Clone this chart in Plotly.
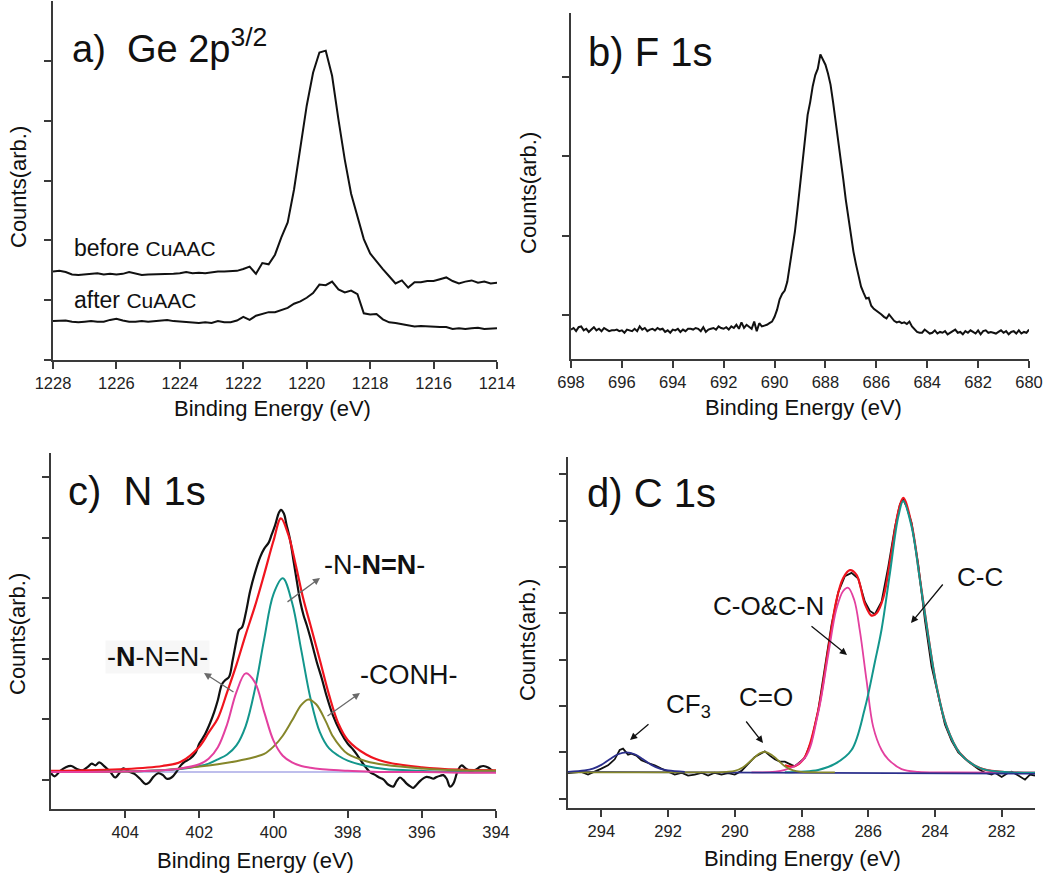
import numpy as np
import plotly.graph_objects as go

W, H = 1050, 874
OFF = 0  # page offset of the plot div (body margin removed below)
FONT = "Liberation Sans, Arial, sans-serif"
AX = "#3a3a3a"

# ---------------- Panel a: Ge 2p3/2 ----------------
ge_energy = np.round(np.linspace(1228.0, 1214.0, 71), 1)
ge_before = [1.48, 1.49, 1.47, 1.43, 1.42, 1.43, 1.44, 1.45, 1.43, 1.44,
             1.43, 1.44, 1.47, 1.44, 1.42, 1.43, 1.43, 1.44, 1.43, 1.44,
             1.45, 1.47, 1.45, 1.46, 1.45, 1.47, 1.48, 1.48, 1.48, 1.49,
             1.52, 1.56, 1.44, 1.62, 1.60, 1.76, 2.05, 2.30, 2.85, 3.55,
             4.25, 4.80, 5.14, 5.17, 4.75, 4.02, 3.35, 2.78, 2.38, 2.02,
             1.78, 1.64, 1.52, 1.40, 1.28, 1.33, 1.21, 1.30, 1.30, 1.32,
             1.32, 1.35, 1.38, 1.32, 1.28, 1.31, 1.33, 1.29, 1.31, 1.28,
             1.29]
ge_after = [0.65, 0.66, 0.66, 0.64, 0.63, 0.64, 0.65, 0.64, 0.64, 0.67,
            0.69, 0.66, 0.64, 0.64, 0.65, 0.64, 0.65, 0.66, 0.67, 0.65,
            0.64, 0.64, 0.63, 0.62, 0.63, 0.62, 0.65, 0.63, 0.63, 0.66,
            0.72, 0.67, 0.74, 0.77, 0.80, 0.80, 0.84, 0.87, 0.94, 0.98,
            1.04, 1.12, 1.26, 1.25, 1.31, 1.18, 1.13, 1.16, 1.10, 0.78,
            0.76, 0.77, 0.68, 0.63, 0.62, 0.60, 0.59, 0.56, 0.57, 0.56,
            0.56, 0.55, 0.55, 0.52, 0.53, 0.52, 0.53, 0.54, 0.52, 0.53,
            0.53]
ge_xticks = [1228, 1226, 1224, 1222, 1220, 1218, 1216, 1214]

# ---------------- Panel b: F 1s ----------------
f_energy = np.round(np.linspace(698.0, 680.0, 181), 1)
f_counts = [0.82, 0.84, 0.80, 0.85, 0.86, 0.81, 0.83, 0.79, 0.82, 0.85,
            0.81, 0.83, 0.80, 0.84, 0.82, 0.80, 0.81, 0.81, 0.82, 0.80,
            0.81, 0.78, 0.82, 0.81, 0.80, 0.83, 0.80, 0.86, 0.82, 0.84,
            0.80, 0.82, 0.83, 0.81, 0.84, 0.82, 0.83, 0.79, 0.81, 0.78,
            0.82, 0.81, 0.83, 0.79, 0.82, 0.80, 0.83, 0.83, 0.82, 0.84,
            0.83, 0.80, 0.85, 0.79, 0.82, 0.83, 0.84, 0.82, 0.86, 0.84,
            0.83, 0.85, 0.82, 0.86, 0.84, 0.88, 0.83, 0.91, 0.84, 0.88,
            0.86, 0.83, 0.92, 0.80, 0.90, 0.86, 0.87, 0.88, 0.90, 0.92,
            0.98, 1.07, 1.20, 1.27, 1.31, 1.42, 1.63, 1.83, 2.05, 2.33,
            2.62, 2.90, 3.18, 3.52, 3.68, 3.88, 4.02, 4.10, 4.28, 4.22,
            4.15, 4.04, 3.90, 3.68, 3.45, 3.20, 2.93, 2.71, 2.45, 2.22,
            1.98, 1.80, 1.64, 1.50, 1.36, 1.28, 1.21, 1.22, 1.12, 1.08,
            1.06, 1.03, 1.01, 0.98, 0.96, 1.01, 0.97, 0.93, 0.91, 0.92,
            0.90, 0.91, 0.89, 0.92, 0.86, 0.82, 0.79, 0.78, 0.78, 0.82,
            0.79, 0.77, 0.78, 0.81, 0.77, 0.79, 0.78, 0.80, 0.76, 0.78,
            0.80, 0.82, 0.78, 0.79, 0.76, 0.80, 0.78, 0.81, 0.79, 0.77,
            0.81, 0.76, 0.80, 0.81, 0.78, 0.79, 0.78, 0.77, 0.79, 0.81,
            0.78, 0.80, 0.76, 0.79, 0.80, 0.77, 0.81, 0.77, 0.79, 0.78,
            0.82]
f_xticks = [698, 696, 694, 692, 690, 688, 686, 684, 682, 680]

# ---------------- Panel c: N 1s ----------------
n_data_e = [406.0, 405.9, 405.75, 405.6, 405.45, 405.3, 405.15, 405.0, 404.9, 404.8,
            404.7, 404.55, 404.4, 404.27, 404.15, 404.05, 403.9, 403.75, 403.6, 403.45,
            403.35, 403.24, 403.1, 402.98, 402.88, 402.75, 402.6, 402.5, 402.4, 402.25,
            402.1, 402.0, 401.85, 401.71, 401.6, 401.5, 401.39, 401.3, 401.2, 401.1,
            401.0, 400.93, 400.85, 400.75, 400.63, 400.5, 400.36, 400.25, 400.13, 400.05,
            399.96, 399.85, 399.8, 399.72, 399.65, 399.55, 399.45, 399.37, 399.28, 399.19,
            399.1, 399.01, 398.92, 398.83, 398.7, 398.56, 398.4, 398.2, 398.0, 397.85,
            397.75, 397.6, 397.5, 397.4, 397.25, 397.15, 397.04, 396.9, 396.77, 396.68,
            396.59, 396.5, 396.41, 396.3, 396.23, 396.14, 396.05, 395.95, 395.87, 395.78,
            395.69, 395.6, 395.5, 395.42, 395.33, 395.24, 395.15, 395.05, 394.97, 394.92,
            394.8, 394.69, 394.55, 394.42, 394.34, 394.2, 394.07, 394.0]
n_data = [0.11, 0.06, 0.15, 0.21, 0.23, 0.18, 0.16, 0.22, 0.27, 0.24,
          0.29, 0.22, 0.13, 0.04, 0.12, 0.19, 0.14, 0.10, 0.02, -0.07,
          -0.04, 0.05, 0.11, 0.08, 0.02, 0.04, 0.15, 0.24, 0.30, 0.35,
          0.45, 0.60, 0.75, 0.94, 1.12, 1.32, 1.58, 1.65, 1.70, 1.98,
          2.30, 2.48, 2.52, 2.75, 3.12, 3.42, 3.68, 3.82, 3.92, 4.05,
          4.20, 4.42, 4.46, 4.40, 4.22, 3.96, 3.58, 3.28, 2.95, 2.72,
          2.55, 2.36, 2.15, 1.94, 1.68, 1.37, 1.07, 0.80, 0.60, 0.50,
          0.42, 0.28, 0.20, 0.13, 0.08, 0.04, 0.01, -0.08, -0.11, -0.02,
          0.04, 0.00, -0.06, -0.11, -0.13, -0.08, -0.02, 0.03, 0.05, 0.04,
          0.02, 0.05, 0.07, 0.08, 0.02, -0.11, -0.06, 0.12, 0.22, 0.24,
          0.18, 0.15, 0.17, 0.22, 0.23, 0.20, 0.14, 0.15]
n_comp_e = [406.0, 404.0, 403.0, 402.5, 402.0, 401.75, 401.5, 401.25, 401.0, 400.75,
            400.5, 400.25, 400.0, 399.75, 399.5, 399.25, 399.0, 398.75, 398.5, 398.25,
            398.0, 397.5, 397.0, 396.0, 395.0, 394.0]
n_nnn_mid = [0.13, 0.14, 0.16, 0.18, 0.23, 0.27, 0.34, 0.42, 0.57, 0.89,
             1.50, 2.33, 3.07, 3.33, 2.93, 2.14, 1.34, 0.79, 0.52, 0.40,
             0.32, 0.23, 0.18, 0.15, 0.13, 0.13]
n_nnn_end = [0.13, 0.14, 0.16, 0.19, 0.26, 0.35, 0.54, 0.92, 1.45, 1.76,
             1.61, 1.12, 0.65, 0.40, 0.29, 0.23, 0.20, 0.18, 0.17, 0.16,
             0.15, 0.14, 0.13, 0.13, 0.12, 0.12]
n_conh_e = [406.0, 404.0, 403.0, 402.5, 402.0, 401.5, 401.0, 400.75, 400.5, 400.25,
            400.0, 399.75, 399.5, 399.25, 399.06, 398.85, 398.6, 398.4, 398.2, 398.0,
            397.5, 397.0, 396.0, 395.0, 394.0]
n_conh = [0.13, 0.14, 0.16, 0.19, 0.22, 0.26, 0.31, 0.34, 0.38, 0.43,
          0.55, 0.73, 0.98, 1.24, 1.33, 1.25, 0.98, 0.72, 0.55, 0.43,
          0.31, 0.25, 0.19, 0.16, 0.15]
n_env_e = [406.0, 404.0, 403.0, 402.5, 402.0, 401.75, 401.5, 401.25, 401.0, 400.75,
           400.5, 400.25, 400.0, 399.8, 399.6, 399.4, 399.2, 399.0, 398.75, 398.5,
           398.25, 398.0, 397.5, 397.0, 396.0, 395.0, 394.0]
n_env = [0.15, 0.18, 0.23, 0.30, 0.55, 0.78, 1.02, 1.45, 1.90, 2.40,
         2.87, 3.40, 3.95, 4.32, 4.05, 3.55, 3.00, 2.55, 1.98, 1.40,
         0.93, 0.66, 0.42, 0.30, 0.21, 0.17, 0.16]
n_base_e = [406.0, 394.0]
n_base = [0.13, 0.13]
n_xticks = [404, 402, 400, 398, 396, 394]

# ---------------- Panel d: C 1s ----------------
c_data_e = [295.0, 294.8, 294.6, 294.4, 294.2, 294.0, 293.8, 293.6, 293.45, 293.35,
            293.2, 293.1, 292.95, 292.8, 292.6, 292.4, 292.2, 292.0, 291.8, 291.6,
            291.4, 291.2, 291.0, 290.8, 290.6, 290.4, 290.2, 290.0, 289.8, 289.6,
            289.4, 289.2, 289.1, 288.95, 288.8, 288.65, 288.5, 288.3, 288.2, 287.9,
            287.7, 287.5, 287.3, 287.1, 286.9, 286.7, 286.5, 286.3, 286.1, 285.95,
            285.8, 285.6, 285.4, 285.2, 285.05, 284.95, 284.85, 284.7, 284.5, 284.3,
            284.1, 283.9, 283.7, 283.5, 283.3, 283.0, 282.7, 282.5, 282.3, 282.2,
            282.0, 281.8, 281.7, 281.5, 281.3, 281.15, 281.0]
c_data = [0.55, 0.56, 0.58, 0.52, 0.58, 0.65, 0.72, 0.85, 1.05, 1.08,
          0.95, 0.97, 0.93, 0.83, 0.77, 0.72, 0.65, 0.58, 0.52, 0.56,
          0.50, 0.52, 0.56, 0.50, 0.56, 0.52, 0.55, 0.52, 0.60, 0.75,
          0.90, 0.98, 1.02, 0.93, 0.85, 0.80, 0.80, 0.73, 0.70, 0.88,
          1.25, 1.90, 2.85, 3.75, 4.45, 4.80, 4.87, 4.75, 4.25, 4.05,
          3.98, 4.25, 5.00, 5.85, 6.35, 6.45, 6.30, 5.95, 5.05, 3.85,
          2.85, 2.20, 1.60, 1.25, 1.00, 0.80, 0.64, 0.56, 0.52, 0.56,
          0.47, 0.56, 0.58, 0.50, 0.41, 0.52, 0.50]
c_cc_e = [288.5, 287.5, 287.0, 286.5, 286.1, 285.8, 285.6, 285.35, 285.1, 284.95,
          284.7, 284.45, 284.2, 283.95, 283.65, 283.25, 282.65, 282.0, 281.0]
c_cc = [0.57, 0.62, 0.75, 1.05, 1.95, 2.95, 3.65, 4.86, 6.08, 6.42,
        5.87, 4.72, 3.50, 2.42, 1.56, 0.98, 0.66, 0.58, 0.56]
c_con_e = [289.5, 288.5, 287.9, 287.5, 287.2, 286.95, 286.75, 286.6, 286.42, 286.25,
           286.05, 285.85, 285.6, 285.4, 285.0, 284.5, 283.5, 281.0]
c_con = [0.57, 0.62, 0.88, 1.85, 3.10, 4.10, 4.48, 4.55, 4.29, 3.62,
         2.55, 1.55, 1.05, 0.85, 0.64, 0.58, 0.57, 0.56]
c_env_e = [288.5, 288.2, 287.9, 287.5, 287.2, 286.95, 286.75, 286.55, 286.35, 286.1,
           285.9, 285.75, 285.55, 285.3, 285.1, 284.95, 284.7, 284.45, 284.2, 283.95,
           283.65, 283.25, 282.65, 282.0, 281.0]
c_env = [0.72, 0.70, 0.90, 1.90, 3.21, 4.29, 4.76, 4.93, 4.83, 4.20,
         3.95, 4.00, 4.33, 5.33, 6.19, 6.49, 5.92, 4.74, 3.51, 2.42,
         1.56, 0.98, 0.66, 0.58, 0.56]
c_co_e = [295.0, 291.0, 290.5, 290.25, 290.0, 289.75, 289.5, 289.25, 289.1, 288.9,
          288.75, 288.5, 288.25, 288.0, 287.5, 287.0]
c_co = [0.57, 0.57, 0.57, 0.58, 0.60, 0.68, 0.83, 0.98, 1.01, 0.95,
        0.86, 0.70, 0.61, 0.58, 0.57, 0.57]
c_cf3_e = [295.0, 294.5, 294.25, 294.0, 293.75, 293.5, 293.25, 293.0, 292.75, 292.5,
           292.25, 292.0, 291.5]
c_cf3 = [0.58, 0.61, 0.65, 0.73, 0.85, 0.96, 1.00, 0.96, 0.85, 0.73,
         0.65, 0.61, 0.58]
c_base_e = [295.0, 281.0]
c_base = [0.58, 0.54]
c_xticks = [294, 292, 290, 288, 286, 284, 282]

# ---------------- colours ----------------
BLACK = "#111111"
RED = "#f0141e"
TEAL = "#13968c"
MAGENTA = "#e3409f"
OLIVE = "#85862a"
LAVENDER = "#a9a9e6"
NAVY = "#2b2f8c"

fig = go.Figure()


def line(x, y, color, width, ax, shape="linear"):
    fig.add_trace(go.Scatter(
        x=x, y=y, mode="lines", xaxis=ax[0], yaxis=ax[1],
        line=dict(color=color, width=width, shape=shape, smoothing=1.0),
        showlegend=False, hoverinfo="skip"))


# panel a
line(ge_energy, ge_before, BLACK, 2, ("x", "y"))
line(ge_energy, ge_after, BLACK, 2, ("x", "y"))
# panel b
line(f_energy, f_counts, BLACK, 2, ("x2", "y2"))
# panel c
line(n_base_e, n_base, LAVENDER, 1.6, ("x3", "y3"))
line(n_data_e, n_data, BLACK, 2.2, ("x3", "y3"), "spline")
line(n_env_e, n_env, RED, 2.2, ("x3", "y3"), "spline")
line(n_comp_e, n_nnn_mid, TEAL, 2, ("x3", "y3"), "spline")
line(n_conh_e, n_conh, OLIVE, 2, ("x3", "y3"), "spline")
line(n_comp_e, n_nnn_end, MAGENTA, 2, ("x3", "y3"), "spline")
# panel d
line(c_data_e, c_data, BLACK, 1.8, ("x4", "y4"))
line(c_env_e, c_env, RED, 2.2, ("x4", "y4"), "spline")
line(c_con_e, c_con, MAGENTA, 1.8, ("x4", "y4"), "spline")
line(c_cc_e, c_cc, TEAL, 2, ("x4", "y4"), "spline")
line(c_base_e, c_base, NAVY, 1.8, ("x4", "y4"))
line(c_co_e, c_co, OLIVE, 1.8, ("x4", "y4"), "spline")
line(c_cf3_e, c_cf3, NAVY, 1.8, ("x4", "y4"), "spline")


def xax(domain, rng, ticks, anchor):
    return dict(domain=domain, range=rng, tickvals=ticks,
                ticktext=[str(t) for t in ticks], anchor=anchor,
                automargin=False,
                ticks="outside", ticklen=7, tickwidth=1.6, tickcolor=AX,
                showline=True, linecolor=AX, linewidth=1.8,
                showgrid=False, zeroline=False,
                tickfont=dict(family=FONT, size=16.5, color="#222"))


def yax(domain, rng, ticks, anchor):
    return dict(domain=domain, range=rng, tickvals=ticks, anchor=anchor,
                automargin=False, showticklabels=False,
                ticks="outside", ticklen=7, tickwidth=1.6, tickcolor=AX,
                showline=True, linecolor=AX, linewidth=1.8,
                showgrid=False, zeroline=False)


def dx(a, b):
    return [(a - OFF) / W, (b - OFF) / W]


def dy(top, bottom):
    return [1 - (bottom - OFF) / H, min(1.0, 1 - (top - OFF) / H)]


fig.update_layout(
    width=W, height=H, margin=dict(l=0, r=0, t=0, b=0, autoexpand=False),
    paper_bgcolor="white", plot_bgcolor="white",
    xaxis=xax(dx(53, 497), [1228, 1214], ge_xticks, "y"),
    yaxis=yax(dy(1, 360), [0, 6.0], [0, 1, 2, 3, 4, 5], "x"),
    xaxis2=xax(dx(571, 1029), [698, 680], f_xticks, "y2"),
    yaxis2=yax(dy(13, 359), [0.45, 4.8], [1, 2, 3, 4], "x2"),
    xaxis3=xax(dx(51, 496), [406, 394], n_xticks, "y3"),
    yaxis3=yax(dy(453, 809), [-0.48, 5.4], [0, 1, 2, 3, 4, 5], "x3"),
    xaxis4=xax(dx(568, 1035), [295, 281], c_xticks, "y4"),
    yaxis4=yax(dy(457, 808), [-0.2, 7.37], [0, 1, 2, 3, 4, 5, 6, 7], "x4"),
)


def P(px, py):
    return (px - OFF) / W, 1 - (py - OFF) / H


def text(t, px, py, size, xanchor="center", yanchor="middle", angle=0, **kw):
    x, y = P(px, py)
    fig.add_annotation(text=t, x=x, y=y, xref="paper", yref="paper",
                       xanchor=xanchor, yanchor=yanchor, showarrow=False,
                       textangle=angle,
                       font=dict(family=FONT, size=size, color="#111"), **kw)


def arrow(tx, ty, hx, hy, color):
    x, y = P(hx, hy)
    fig.add_annotation(text="", x=x, y=y, xref="paper", yref="paper",
                       ax=tx - hx, ay=ty - hy, axref="pixel", ayref="pixel",
                       showarrow=True, arrowhead=2, arrowsize=1.1, arrowwidth=1.3,
                       arrowcolor=color)


# panel titles
text("a)  Ge 2p<sup>3/2</sup>", 70, 46, 38, xanchor="left")
text("b) F 1s", 586, 52, 40, xanchor="left")
text("c)  N 1s", 66, 491, 40, xanchor="left")
text("d) C 1s", 585, 493, 40, xanchor="left")

# axis titles
for (cx, cy) in [(272, 408), (803, 407), (255, 860), (802, 858)]:
    text("Binding Energy (eV)", cx, cy, 22)
for (cx, cy) in [(18, 187), (528, 193), (17, 634), (527, 640)]:
    text("Counts(arb.)", cx, cy, 22, angle=-90, borderpad=0)

# panel a labels
text("before <span style='font-size:21px'>CuAAC</span>", 72, 248, 23, xanchor="left")
text("after <span style='font-size:21px'>CuAAC</span>", 72, 300, 23, xanchor="left")

# panel c labels
text("-N-<b>N=N</b>-", 374, 565, 27)
text("-<b>N</b>-N=N-", 157, 657, 27, bgcolor="#f7f7f7")
text("-CONH-", 408, 675, 27)
GRAY = "#6a6a6a"
arrow(286, 603, 320, 578, GRAY)
arrow(235, 693, 204, 673, GRAY)
arrow(326, 717, 360, 693, GRAY)

# panel d labels
text("CF<sub>3</sub>", 688, 705, 26)
text("C=O", 766, 697, 26)
text("C-O&amp;C-N", 768, 606, 26)
text("C-C", 980, 577, 26)
arrow(650, 723, 630, 740, BLACK)
arrow(745, 720, 763, 743, BLACK)
arrow(810, 625, 847, 655, BLACK)
arrow(944, 583, 911, 623, BLACK)

fig.write_html("out.html", config={"displayModeBar": False},
               post_script="document.body.style.margin='0px';")
